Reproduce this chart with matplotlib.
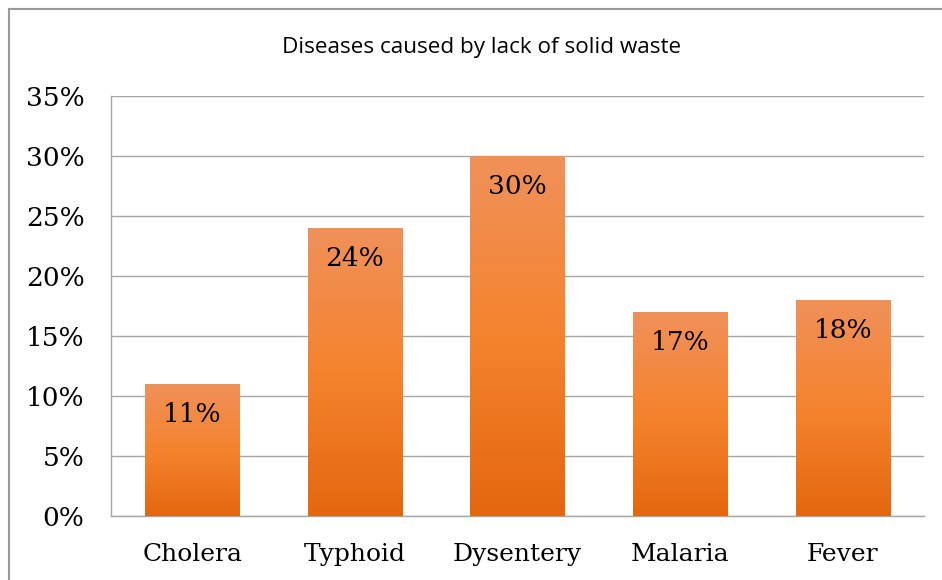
import numpy as np
import matplotlib
matplotlib.use("Agg")
import matplotlib.pyplot as plt
from matplotlib.colors import LinearSegmentedColormap
from matplotlib.lines import Line2D

# disease shares (percent)
diseases = ["Cholera", "Typhoid", "Dysentery", "Malaria", "Fever"]
shares = [11, 24, 30, 17, 18]
yticks = [0, 5, 10, 15, 20, 25, 30, 35]

W, H = 942, 580
fig = plt.figure(figsize=(W / 100, H / 100), dpi=100)
ax = fig.add_axes([111 / W, 1 - 516 / H, (924 - 111) / W, (516 - 96) / H])

serif = "DejaVu Serif"
grey = "#A6A6A6"

# orange gradient, light at the top, darker at the base
grad = LinearSegmentedColormap.from_list("orange", ["#E4670F", "#F5832E", "#F0915A"])
x = np.arange(len(diseases))
width = 0.58
bars = ax.bar(x, shares, width=width, color="none", edgecolor="none", zorder=3)
for b, v in zip(bars, shares):
    x0 = b.get_x()
    img = ax.imshow(np.linspace(0, 1, 256).reshape(-1, 1), cmap=grad, origin="lower",
                    extent=[x0, x0 + width, 0, v], aspect="auto", zorder=3)
    img.set_clip_path(b)
    ax.annotate(f"{v}%", (x0 + width / 2, v), xytext=(0, -31), textcoords="offset pixels",
                ha="center", va="center", fontsize=19, family=serif, color="black", zorder=4)

ax.set_xlim(-0.5, len(diseases) - 0.5)
ax.set_ylim(0, 35)
ax.set_yticks(yticks)
ax.set_yticklabels([f"{t}%" for t in yticks], fontsize=19, family=serif)
ax.set_xticks(x)
ax.set_xticklabels(diseases, fontsize=18, family=serif)
ax.tick_params(axis="both", length=0)
ax.tick_params(axis="y", pad=19)
ax.tick_params(axis="x", pad=19.5)
ax.yaxis.grid(True, color=grey, linewidth=1.0, zorder=0)
ax.set_axisbelow(True)
for s in ["top", "right"]:
    ax.spines[s].set_visible(False)
for s in ["left", "bottom"]:
    ax.spines[s].set_color(grey)
    ax.spines[s].set_linewidth(1.0)

fig.text(482 / W, 1 - 47 / H, "Diseases caused by lack of solid waste",
         ha="center", va="center", fontsize=16.2, family="Open Sans")

# chart frame
fig.add_artist(Line2D([9 / W, 9 / W], [0, 1 - 9 / H], color="#9A9A9A", linewidth=1.5))
fig.add_artist(Line2D([9 / W, 1], [1 - 9 / H, 1 - 9 / H], color="#9A9A9A", linewidth=1.5))

fig.savefig("out.png", dpi=100)
